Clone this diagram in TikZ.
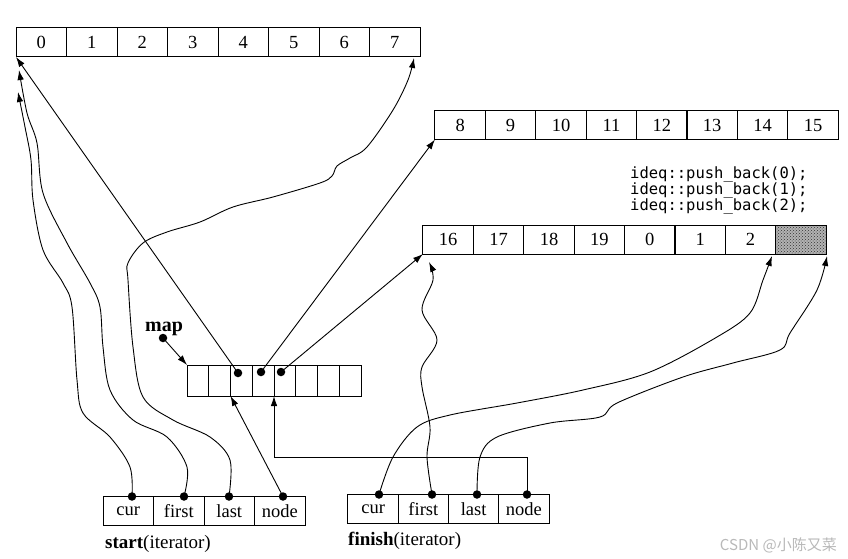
\documentclass[tikz,border=0pt]{standalone}
\usepackage{fontspec}
\setmainfont{Liberation Serif}
\newfontfamily\codefont{DejaVu Sans Mono}
\newfontfamily\cjkfont{Noto Sans CJK SC}
\usetikzlibrary{arrows.meta,patterns,calc}
\tikzset{
  cell/.style={draw, line width=1pt, minimum width=50.5pt, minimum height=29pt, inner sep=0pt, outer sep=0pt, font=\fontsize{18.5}{18.5}\selectfont},
  mcell/.style={draw, line width=1pt, minimum width=21.75pt, minimum height=31pt, inner sep=0pt, outer sep=0pt},
  dot/.style={circle, fill=black, inner sep=0pt, minimum size=8.5pt},
  arr/.style={line width=0.9pt, -{Latex[length=10pt,width=6.5pt]}},
  codetxt/.style={font=\codefont\fontsize{15.5}{16}\selectfont, anchor=base west, inner sep=0pt},
  lbl/.style={anchor=base west, inner sep=0pt, font=\fontsize{19}{19}\selectfont},
}
\begin{document}
\begin{tikzpicture}[x=1pt,y=-1pt]
\useasboundingbox[fill=white] (0,0) rectangle (848,559);

% top buffer 0..7
\foreach \v [count=\i from 0] in {0,...,7}
  \node[cell] (t\i) at ({16+50.5*\i+25.25},42.5) {\v};
% middle buffer 8..15
\foreach \v [count=\i from 0] in {8,...,15}
  \node[cell] (u\i) at ({435+50.4*\i+25.2},125) {\v};
% bottom buffer
\foreach \v [count=\i from 0] in {16,17,18,19,0,1,2}
  \node[cell] (b\i) at ({423+50.4*\i+25.2},239.5) {\v};
\node[cell, preaction={fill=gray!60}, pattern=crosshatch dots, pattern color=black!80] (b7) at ({423+50.4*7+25.2},239.5) {};

% code
\node[codetxt] (code1) at (630,178) {ideq::push\_back(0);};
\node[codetxt] (code2) at (630,194) {ideq::push\_back(1);};
\node[codetxt] (code3) at (630,210) {ideq::push\_back(2);};

% map
\foreach \i in {0,...,7}
  \node[mcell] (m\i) at ({187+21.75*\i+10.875},380.5) {};
\node[anchor=base, inner sep=0pt, font=\bfseries\fontsize{20}{20}\selectfont] (maplbl) at (164,331) {map};

% iterators
\foreach \v [count=\i from 0] in {cur,first,last,node}
  \node[cell] (s\i) at ({103+50.5*\i+25.25},511) {\v};
\foreach \v [count=\i from 0] in {cur,first,last,node}
  \node[cell] (f\i) at ({348+50.25*\i+25.1},509) {\v};
\node[lbl] (slbl) at (105,548) {\textbf{start}(iterator)};
\node[lbl] (flbl) at (348,545) {\textbf{finish}(iterator)};

% curve end points
\coordinate (e0) at (18,92);
\coordinate (e1) at (19,70);
\coordinate (e2) at (414,58);
\coordinate (e3) at (429,262);
\coordinate (e4) at (772,256);
\coordinate (e5) at (827,256);
\coordinate (fe) at (527,457);

% dots
\node[dot] (mapdot) at (163,338) {};
\node[dot] (md2) at (238,373) {};
\node[dot] (md3) at (261,372) {};
\node[dot] (md4) at (281,372) {};
\node[dot] (sd0) at (132,496.5) {};
\node[dot] (sd1) at (184,496.5) {};
\node[dot] (sd2) at (229,496.5) {};
\node[dot] (sd3) at (283,496.5) {};
\node[dot] (fd0) at (379,494.5) {};
\node[dot] (fd1) at (432,494.5) {};
\node[dot] (fd2) at (477,494.5) {};
\node[dot] (fd3) at (527,494.5) {};

% straight connectors
\draw[arr] (mapdot.center) -- (m0.north west);
\draw[arr] (md2.center) -- (t0.south west);
\draw[arr] (md3.center) -- (u0.south west);
\draw[arr] (md4.center) -- (b0.south west);
\draw[arr] (sd3.center) -- (m2.south west);
\draw[arr] (fd3.center) -- (fe) -| (m4.south west);

% wavy connectors from start
\draw[arr] plot[smooth, tension=0.55] coordinates {(sd0.center) (130,467) (110,437) (83,413) (77,380) (72,307) (63,283) (43,250) (33,200) (31,160) (25,127) (e0)};
\draw[arr] plot[smooth, tension=0.55] coordinates {(sd1.center) (187,467) (167,437) (133,420) (110,390) (103,347) (100,307) (90,283) (67,243) (43,193) (37,143) (27,113) (e1)};
\draw[arr] plot[smooth, tension=0.55] coordinates {(sd2.center) (230,460) (210,437) (173,420) (143,397) (133,347) (128,280) (128,263) (143,243) (167,232) (200,222) (233,207) (273,197) (320,183) (332,176) (337,166) (350,158) (367,147) (393,110) (408,80) (e2)};

% wavy connectors from finish
\draw[arr] plot[smooth, tension=0.55] coordinates {(fd1.center) (427,457) (430,427) (422,387) (422,367) (437,340) (422,310) (433,280) (e3)};
\draw[arr] plot[smooth, tension=0.55] coordinates {(fd0.center) (393,457) (417,427) (450,415) (517,403) (583,390) (650,372) (717,337) (750,313) (763,280) (e4)};
\draw[arr] plot[smooth, tension=0.55] coordinates {(fd2.center) (480,457) (497,437) (550,423) (600,417) (617,403) (683,377) (733,363) (780,350) (790,333) (817,290) (e5)};

% watermark
\node[font=\cjkfont\fontsize{15}{15}\selectfont, text=gray!55, anchor=base east, inner sep=0pt] (wm) at (837,550) {CSDN @小陈又菜};
\end{tikzpicture}
\end{document}
